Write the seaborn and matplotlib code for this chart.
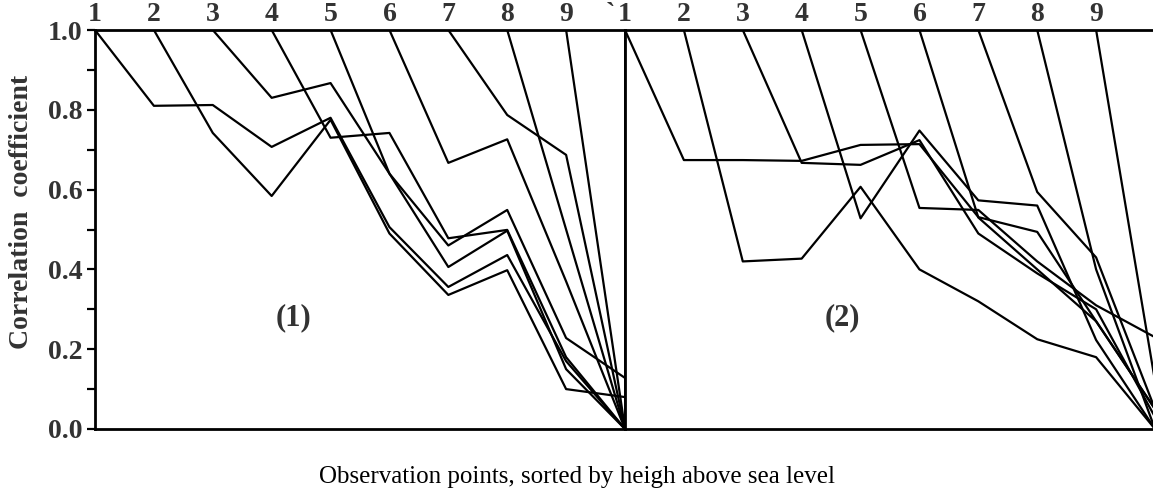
import numpy as np
import pandas as pd
import matplotlib
matplotlib.use("Agg")
import matplotlib.pyplot as plt
import matplotlib.transforms as mtransforms
import seaborn as sns

nan = np.nan
points = list(range(1, 11))

# Panel (1): correlation of each observation point with the following points
left_lines = {
    "1": [1.0, 0.81, 0.812, 0.707, 0.78, 0.506, 0.356, 0.436, 0.17, 0.0],
    "2": [nan, 1.0, 0.742, 0.584, 0.775, 0.49, 0.336, 0.398, 0.10, 0.08],
    "3": [nan, nan, 1.0, 0.83, 0.867, 0.64, 0.406, 0.497, 0.15, 0.0],
    "4": [nan, nan, nan, 1.0, 0.73, 0.742, 0.478, 0.499, 0.18, 0.0],
    "5": [nan, nan, nan, nan, 1.0, 0.64, 0.46, 0.549, 0.228, 0.128],
    "6": [nan, nan, nan, nan, nan, 1.0, 0.667, 0.726, 0.37, 0.0],
    "7": [nan, nan, nan, nan, nan, nan, 1.0, 0.787, 0.687, 0.0],
    "8": [nan, nan, nan, nan, nan, nan, nan, 1.0, 0.50, 0.0],
    "9": [nan, nan, nan, nan, nan, nan, nan, nan, 1.0, 0.0],
}

# Panel (2)
right_lines = {
    "1": [1.0, 0.674, 0.674, 0.672, 0.712, 0.714, 0.531, 0.494, 0.27, 0.05],
    "2": [nan, 1.0, 0.42, 0.427, 0.607, 0.40, 0.32, 0.225, 0.18, 0.0],
    "3": [nan, nan, 1.0, 0.667, 0.662, 0.724, 0.49, 0.39, 0.30, 0.03],
    "4": [nan, nan, nan, 1.0, 0.528, 0.748, 0.573, 0.56, 0.223, 0.0],
    "5": [nan, nan, nan, nan, 1.0, 0.554, 0.549, 0.42, 0.31, 0.23],
    "6": [nan, nan, nan, nan, nan, 1.0, 0.53, 0.40, 0.27, 0.05],
    "7": [nan, nan, nan, nan, nan, nan, 1.0, 0.594, 0.43, 0.05],
    "8": [nan, nan, nan, nan, nan, nan, nan, 1.0, 0.40, 0.0],
    "9": [nan, nan, nan, nan, nan, nan, nan, nan, 1.0, 0.12],
}

left_tick_labels = ["1", "2", "3", "4", "5", "6", "7", "8", "9", "`"]
right_tick_labels = ["1", "2", "3", "4", "5", "6", "7", "8", "9", ""]
y_ticks = [0.0, 0.2, 0.4, 0.6, 0.8, 1.0]
y_tick_labels = ["0.0", "0.2", "0.4", "0.6", "0.8", "1.0"]
y_minor = [0.1, 0.3, 0.5, 0.7, 0.9]


def to_long(lines):
    rows = []
    for name, vals in lines.items():
        for p, v in zip(points, vals):
            if not np.isnan(v):
                rows.append({"point": p, "r": v, "line": name})
    return pd.DataFrame(rows)


sns.set_theme(style="white")
plt.rcParams["font.family"] = ["Liberation Serif", "DejaVu Serif"]
TXT = "#333333"

W, H = 1153, 493
fig = plt.figure(figsize=(W / 100, H / 100), dpi=100)
ax1 = fig.add_axes([95 / W, 1 - 429 / H, 530 / W, 399 / H])
ax2 = fig.add_axes([625 / W, 1 - 429 / H, 530 / W, 399 / H])

for ax, lines, labels in ((ax1, left_lines, left_tick_labels),
                          (ax2, right_lines, right_tick_labels)):
    df = to_long(lines)
    sns.lineplot(data=df, x="point", y="r", units="line", estimator=None,
                 color="black", linewidth=1.6, ax=ax, legend=False, sort=True)
    ax.set_xlim(1, 10)
    ax.set_ylim(0, 1)
    ax.set_xlabel("")
    ax.set_ylabel("")
    ax.xaxis.tick_top()
    ax.set_xticks(points)
    ax.set_xticklabels(labels, fontsize=20, fontweight="bold", color=TXT)
    ax.tick_params(axis="x", length=0, pad=2)
    for s in ("top", "bottom", "left", "right"):
        ax.spines[s].set_visible(True)
        ax.spines[s].set_color("black")
        ax.spines[s].set_linewidth(2.0)
    ax.grid(False)

# the last label of panel (1) sits left of the shared edge
last = ax1.get_xticklabels()[-1]
last.set_horizontalalignment("right")
last.set_transform(last.get_transform() +
                   mtransforms.ScaledTranslation(-10 / 100, 0, fig.dpi_scale_trans))

ax1.set_yticks(y_ticks)
ax1.set_yticklabels(y_tick_labels, fontsize=20, fontweight="bold", color=TXT)
ax1.set_yticks(y_minor, minor=True)
ax1.tick_params(axis="y", which="both", direction="out", length=6, width=1.6,
                color="black", left=True, pad=3)
ax2.set_yticks([])

ax1.text(0.374, 0.278, "(1)", transform=ax1.transAxes, fontsize=22,
         fontweight="bold", color=TXT, ha="center", va="center")
ax2.text(0.411, 0.278, "(2)", transform=ax2.transAxes, fontsize=22,
         fontweight="bold", color=TXT, ha="center", va="center")

fig.text(22 / W, 1 - 212 / H, "Correlation  coefficient", rotation=90,
         fontsize=20, fontweight="bold", color=TXT, ha="center", va="center")
fig.text(577 / W, 1 - 477 / H,
         "Observation points, sorted by heigh above sea level",
         fontsize=18, color="black", ha="center", va="center")

fig.savefig("out.png", dpi=100)
